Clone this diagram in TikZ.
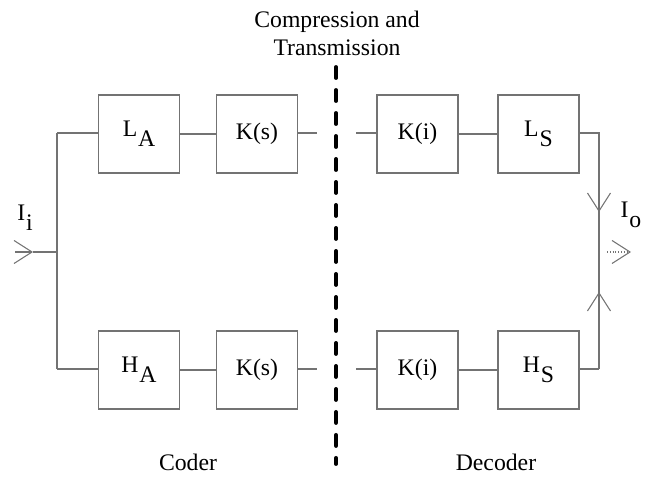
\documentclass[tikz,border=0pt]{standalone}
\usepackage{fontspec}
\setmainfont{Liberation Serif}
\usetikzlibrary{arrows.meta}

% lowered subscript of full size, as in L_A, H_S, I_i
\newcommand{\lowsub}[2]{#1\kern0.5pt\raisebox{-0.42em}{#2}}

\begin{document}
\begin{tikzpicture}[x=0.02cm, y=-0.02cm,
    font=\fontsize{13.5}{16}\selectfont,
    wire/.style={draw=black!55, line width=0.6pt},
    block/.style={wire, minimum width=1.62cm, minimum height=1.56cm, inner sep=0pt},
    barb/.style={wire, -{Straight Barb[length=0.36cm, width=0.46cm, line width=0.6pt]}},
    divider/.style={line width=2.2pt, line cap=round, dash pattern=on 0.22cm off 0.24cm}]

    \useasboundingbox (0,0) rectangle (647,482);

    % ==========================================
    % 1. Coder (analysis branches)
    % ==========================================
    \node[block] (LA) at (139,134) {\lowsub{L}{A}};
    \node[block] (KsT) at (257,134) {K(s)};
    \node[block] (HA) at (139,370) {\lowsub{H}{A}};
    \node[block] (KsB) at (257,370) {K(s)};

    \coordinate (splitT) at (57,133);
    \coordinate (splitB) at (57,369);
    \coordinate (splitM) at (57,252);
    \coordinate (inStart) at (15,252);
    \coordinate (inTip) at (33,252);
    \coordinate (coderT) at (317,133);
    \coordinate (coderB) at (317,369);

    \draw[wire] (splitT) -- (splitB);
    \draw[wire] (splitT) -- (LA.west |- splitT);
    \draw[wire] (LA) -- (KsT);
    \draw[wire] (KsT.east |- coderT) -- (coderT);
    \draw[wire] (splitB) -- (HA.west |- splitB);
    \draw[wire] (HA) -- (KsB);
    \draw[wire] (KsB.east |- coderB) -- (coderB);

    % input
    \draw[barb] (inStart) -- (inTip);
    \draw[wire] (inTip) -- (splitM);
    \node (Ii) at (25,218) {\lowsub{I}{i}};

    % ==========================================
    % 2. Decoder (synthesis branches)
    % ==========================================
    \node[block] (KiT) at (417.5,134) {K(i)};
    \node[block] (LS) at (538.5,134) {\lowsub{L}{S}};
    \node[block] (KiB) at (417.5,370) {K(i)};
    \node[block] (HS) at (538.5,370) {\lowsub{H}{S}};

    \coordinate (decT) at (356,133);
    \coordinate (decB) at (356,369);
    \coordinate (mergeT) at (599,133);
    \coordinate (mergeB) at (599,369);
    \coordinate (downTip) at (599,212);
    \coordinate (upTip) at (599,292);
    \coordinate (outStart) at (607,252);
    \coordinate (outTip) at (631,252);

    \draw[wire] (decT) -- (KiT.west |- decT);
    \draw[wire] (KiT) -- (LS);
    \draw[wire] (LS.east |- mergeT) -- (mergeT) -- (mergeB);
    \draw[wire] (decB) -- (KiB.west |- decB);
    \draw[wire] (KiB) -- (HS);
    \draw[wire] (HS.east |- mergeB) -- (mergeB);

    \draw[barb] (mergeT) -- (downTip);
    \draw[barb] (mergeB) -- (upTip);

    % output
    \draw[barb, densely dotted] (outStart) -- (outTip);
    \node (Io) at (631,215) {\lowsub{I}{o}};

    % ==========================================
    % 3. Channel and captions
    % ==========================================
    \coordinate (divTop) at (336,67);
    \coordinate (divBot) at (336,464);
    \draw[divider] (divTop) -- (divBot);

    \node[align=center] (channel) at (337,33) {Compression and\\Transmission};
    \node (coder) at (188,462) {Coder};
    \node (decoder) at (496,462) {Decoder};

\end{tikzpicture}
\end{document}
